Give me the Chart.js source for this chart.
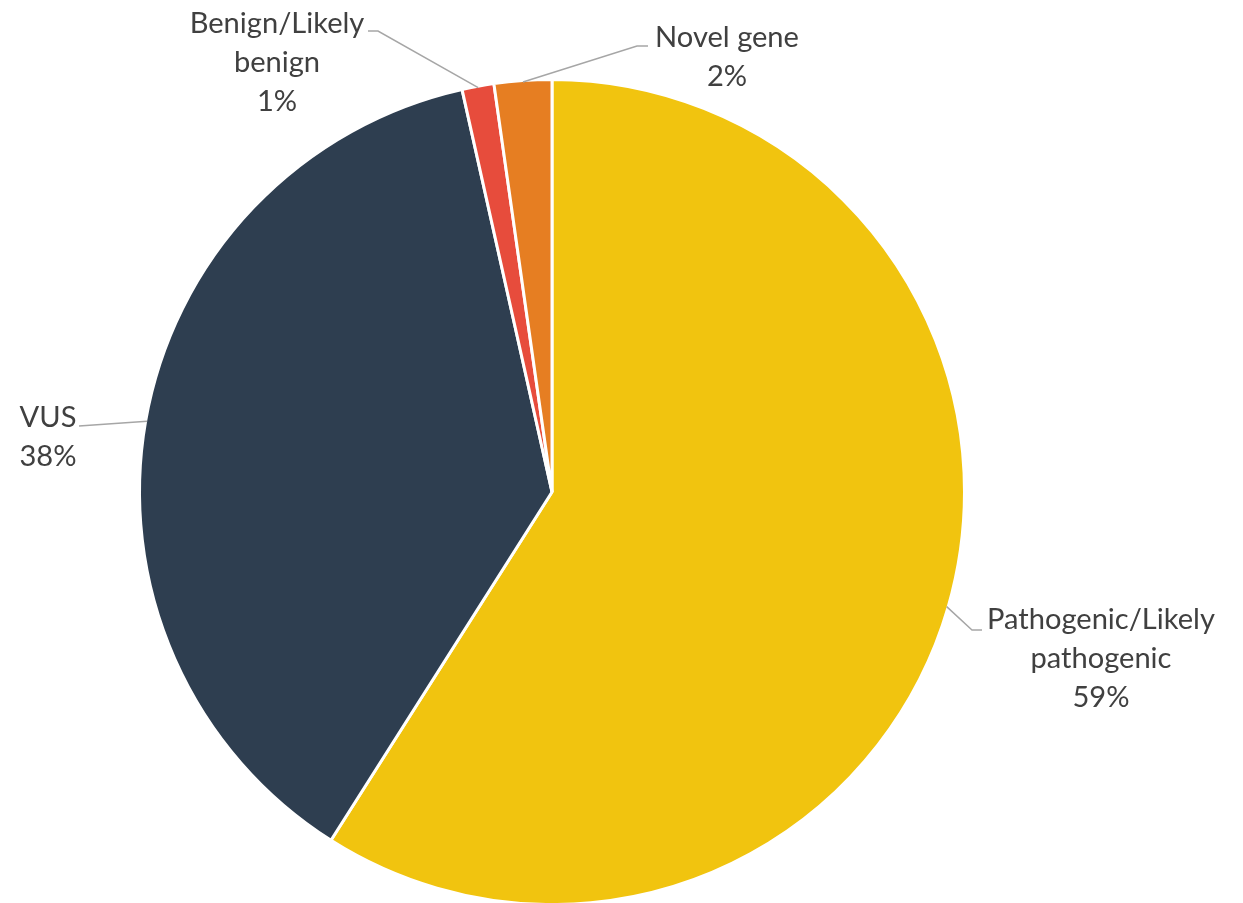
<!DOCTYPE html>
<html><head><meta charset="utf-8">
<script src="https://cdn.jsdelivr.net/npm/chart.js@4/dist/chart.umd.min.js"></script>
<style>html,body{margin:0;padding:0;background:#fff;overflow:hidden}
#wrap{position:relative;width:1243px;height:903px}</style></head>
<body><div id="wrap"><canvas id="c"></canvas></div>
<script>
// ---- data ----
const categories = ["Pathogenic/Likely pathogenic", "VUS", "Benign/Likely benign", "Novel gene"];
const labelLines = [["Pathogenic/Likely", "pathogenic"], ["VUS"], ["Benign/Likely", "benign"], ["Novel gene"]];
const shares = [59, 37.5, 1.25, 2.25];
const colors = ["#F1C40F", "#2E3E50", "#E74C3C", "#E67E22"];

// ---- label layout (text block centre, first line y, leader elbow & end) ----
const labelLayout = [
  {cx: 1101, y0: 620, elbow: [972, 630], end: [982, 630]},
  {cx: 48,   y0: 418, elbow: null,        end: [79, 426]},
  {cx: 277,  y0: 24,  elbow: [378, 31],   end: [368, 31]},
  {cx: 727,  y0: 38,  elbow: [637, 46],   end: [648, 46]}
];
const lineGap = 39;

const labelPlugin = {
  id: 'outLabels',
  afterDraw(chart) {
    const ctx = chart.ctx;
    const meta = chart.getDatasetMeta(0);
    ctx.save();
    // fit font size
    ctx.font = '100px Lato';
    const w100 = ctx.measureText('Pathogenic/Likely').width;
    const fs = Math.min(32, 100 * 228 / w100);
    const total = shares.reduce((a, b) => a + b, 0);
    meta.data.forEach((arc, i) => {
      const p = arc.getProps(['x', 'y', 'startAngle', 'endAngle', 'outerRadius'], true);
      const mid = (p.startAngle + p.endAngle) / 2;
      const r = p.outerRadius - 1.5;
      const ax = p.x + Math.cos(mid) * r;
      const ay = p.y + Math.sin(mid) * r;
      const L = labelLayout[i];
      ctx.strokeStyle = '#A6A6A6';
      ctx.lineWidth = 1.5;
      ctx.beginPath();
      ctx.moveTo(ax, ay);
      if (L.elbow) ctx.lineTo(L.elbow[0], L.elbow[1]);
      ctx.lineTo(L.end[0], L.end[1]);
      ctx.stroke();
      const lines = labelLines[i].concat([Math.round(shares[i] / total * 100) + '%']);
      ctx.fillStyle = '#404040';
      ctx.font = fs + 'px Lato';
      ctx.textAlign = 'center';
      ctx.textBaseline = 'middle';
      lines.forEach((t, k) => ctx.fillText(t, L.cx, L.y0 + k * lineGap));
    });
    ctx.restore();
  }
};

new Chart(document.getElementById('c'), {
  type: 'pie',
  data: {
    labels: categories,
    datasets: [{
      data: shares,
      backgroundColor: colors,
      borderColor: '#FFFFFF',
      borderWidth: 3,
      radius: 412.5,
      clip: false,
      hoverOffset: 0
    }]
  },
  options: {
    responsive: true,
    maintainAspectRatio: false,
    animation: false,
    events: [],
    layout: {padding: {left: 0, right: 139, top: 81, bottom: 0}},
    plugins: {legend: {display: false}, tooltip: {enabled: false}}
  },
  plugins: [labelPlugin]
});
</script>
</body></html>
